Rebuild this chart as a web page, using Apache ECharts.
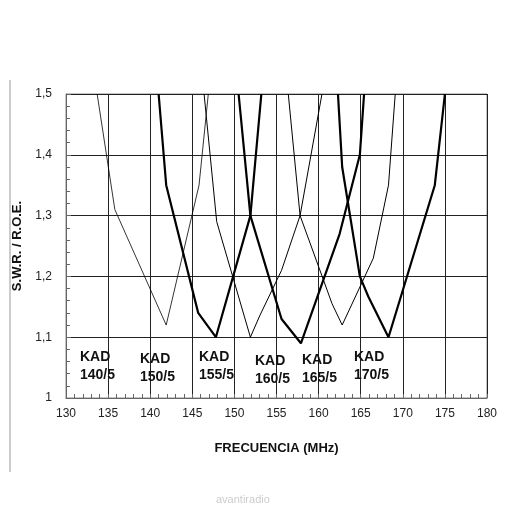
<!DOCTYPE html>
<html><head><meta charset="utf-8">
<script src="https://cdn.jsdelivr.net/npm/echarts@6/dist/echarts.min.js"></script>
<style>html,body{margin:0;padding:0;background:#fff}#c{width:512px;height:512px}</style>
</head><body><div id="c"></div>
<script>
const xTicks = [130,135,140,145,150,155,160,165,170,175,180];
const yTicks = [1,1.1,1.2,1.3,1.4,1.5];
const kad140 = [[133.7,1.5],[135.8,1.31],[141.9,1.12],[145.8,1.35],[146.9,1.5]];
const kad150 = [[141.0,1.5],[141.9,1.35],[145.7,1.14],[147.8,1.10],[151.9,1.30],[153.2,1.5]];
const kad155 = [[146.4,1.5],[147.9,1.29],[151.9,1.10],[153.0,1.135],[155.6,1.21],[157.8,1.30],[160.4,1.5]];
const kad160 = [[150.5,1.5],[151.9,1.30],[155.6,1.13],[157.9,1.09],[162.5,1.27],[164.9,1.40],[165.4,1.5]];
const kad165 = [[156.4,1.5],[157.8,1.30],[161.6,1.155],[162.8,1.12],[166.5,1.23],[168.3,1.35],[169.1,1.5]];
const kad170 = [[162.3,1.5],[162.8,1.38],[164.9,1.20],[165.9,1.167],[168.3,1.10],[173.8,1.35],[175.0,1.5]];
const labels = ["KAD\n140/5","KAD\n150/5","KAD\n155/5","KAD\n160/5","KAD\n165/5","KAD\n170/5"];
const labelPx = [[98,348],[158,350],[217,348],[273,352],[320,351],[372,348]];
const chart = echarts.init(document.getElementById('c'));
const ln = (d,w)=>({type:'line',data:d,symbol:'none',lineStyle:{color:'#000',width:w},z:5});
chart.setOption({
  animation:false,
  grid:{left:66,right:25,top:94,bottom:114,show:true,borderColor:'#888',borderWidth:1},
  xAxis:{type:'value',min:130,max:180,interval:5,
    axisLine:{show:true,onZero:false,lineStyle:{color:'#666'}},
    axisTick:{show:true,inside:true,length:4,lineStyle:{color:'#666'}},
    minorTick:{show:true,splitNumber:5,length:4,lineStyle:{color:'#666'}},
    splitLine:{show:true,lineStyle:{color:'#222',width:1}},
    axisLabel:{color:'#222',fontSize:12,fontFamily:'Liberation Sans',margin:10},
    name:'FRECUENCIA (MHz)',nameLocation:'middle',nameGap:44,
    nameTextStyle:{fontWeight:'bold',fontSize:13,color:'#111',fontFamily:'Liberation Sans'}},
  yAxis:{type:'value',min:1,max:1.5,interval:0.1,
    axisLine:{show:true,lineStyle:{color:'#666'}},
    axisTick:{show:true,inside:true,length:5,lineStyle:{color:'#666'}},
    minorTick:{show:true,splitNumber:5,length:4,lineStyle:{color:'#666'}},
    splitLine:{show:true,lineStyle:{color:'#222',width:1}},
    axisLabel:{color:'#222',fontSize:12,fontFamily:'Liberation Sans',margin:14,
      formatter:v=>v===1?'1':v.toFixed(1).replace('.',',')},
    name:'S.W.R. / R.O.E.',nameLocation:'middle',nameGap:40,
    nameTextStyle:{fontWeight:'bold',fontSize:13,color:'#111',fontFamily:'Liberation Sans'}},
  series:[ln(kad140,0.8),ln(kad150,2.2),ln(kad155,1),ln(kad160,2.2),ln(kad165,1),ln(kad170,2.2)],
  graphic:[
    ...labels.map((t,i)=>({type:'text',left:labelPx[i][0]-18,top:labelPx[i][1],z:10,
      style:{text:t,font:'bold 14px "Liberation Sans"',fill:'#111',lineHeight:18,textAlign:'left'}})),
    {type:'line',shape:{x1:10,y1:80,x2:10,y2:472},style:{stroke:'#999',lineWidth:1}},
    {type:'text',left:216,top:494,style:{text:'avantiradio',font:'11px "Liberation Sans"',fill:'#ccc'}}
  ]
});
</script></body></html>
